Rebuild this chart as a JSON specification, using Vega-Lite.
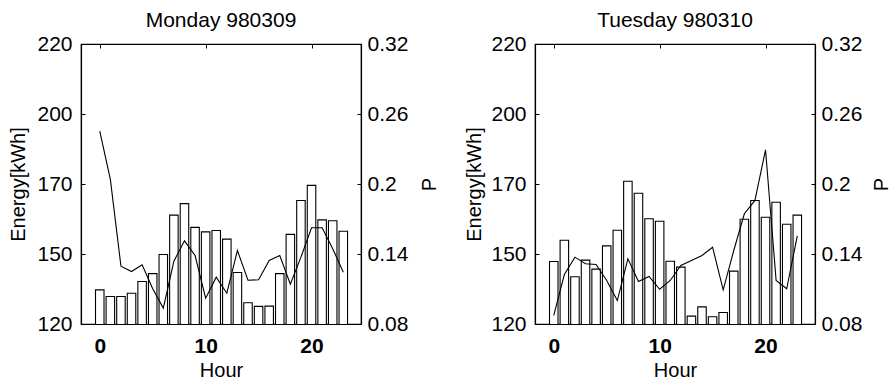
{
  "$schema": "https://vega.github.io/schema/vega-lite/v6.json",
  "background": "white",
  "padding": {"left": 7, "top": 9, "right": 0, "bottom": 0},
  "spacing": 23,
  "config": {
    "font": "Liberation Sans",
    "view": {"stroke": "black", "strokeWidth": 1.2},
    "title": {"fontSize": 21, "fontWeight": "normal", "color": "black", "offset": 2},
    "axis": {
      "grid": false,
      "domainColor": "black",
      "domainWidth": 1.2,
      "tickColor": "black",
      "tickSize": -4,
      "labelFontSize": 21,
      "labelColor": "black",
      "titleFontSize": 20,
      "titleFontWeight": "normal",
      "titleColor": "black"
    }
  },
  "datasets": {
    "mon": [
      {"hour": 0, "energy": 132.2, "p": 0.2453},
      {"hour": 1, "energy": 129.8, "p": 0.2040},
      {"hour": 2, "energy": 129.8, "p": 0.1296},
      {"hour": 3, "energy": 131.0, "p": 0.1250},
      {"hour": 4, "energy": 135.2, "p": 0.1307},
      {"hour": 5, "energy": 138.0, "p": 0.1102},
      {"hour": 6, "energy": 144.8, "p": 0.0936},
      {"hour": 7, "energy": 158.9, "p": 0.1338},
      {"hour": 8, "energy": 163.0, "p": 0.1513},
      {"hour": 9, "energy": 154.5, "p": 0.1387},
      {"hour": 10, "energy": 152.9, "p": 0.1021},
      {"hour": 11, "energy": 153.4, "p": 0.1201},
      {"hour": 12, "energy": 150.3, "p": 0.1064},
      {"hour": 13, "energy": 138.4, "p": 0.1430},
      {"hour": 14, "energy": 127.6, "p": 0.1175},
      {"hour": 15, "energy": 126.3, "p": 0.1179},
      {"hour": 16, "energy": 126.4, "p": 0.1344},
      {"hour": 17, "energy": 138.0, "p": 0.1387},
      {"hour": 18, "energy": 152.0, "p": 0.1141},
      {"hour": 19, "energy": 164.1, "p": 0.1373},
      {"hour": 20, "energy": 169.5, "p": 0.1625},
      {"hour": 21, "energy": 157.2, "p": 0.1625},
      {"hour": 22, "energy": 156.9, "p": 0.1445},
      {"hour": 23, "energy": 153.1, "p": 0.1244}
    ],
    "tue": [
      {"hour": 0, "energy": 142.3, "p": 0.0873},
      {"hour": 1, "energy": 149.9, "p": 0.1224},
      {"hour": 2, "energy": 136.9, "p": 0.1373},
      {"hour": 3, "energy": 142.8, "p": 0.1316},
      {"hour": 4, "energy": 139.6, "p": 0.1310},
      {"hour": 5, "energy": 147.9, "p": 0.1173},
      {"hour": 6, "energy": 153.5, "p": 0.1001},
      {"hour": 7, "energy": 171.0, "p": 0.1359},
      {"hour": 8, "energy": 166.7, "p": 0.1164},
      {"hour": 9, "energy": 157.6, "p": 0.1207},
      {"hour": 10, "energy": 156.7, "p": 0.1098},
      {"hour": 11, "energy": 142.4, "p": 0.1173},
      {"hour": 12, "energy": 140.3, "p": 0.1301},
      {"hour": 13, "energy": 122.8, "p": 0.1344},
      {"hour": 14, "energy": 126.1, "p": 0.1387},
      {"hour": 15, "energy": 122.6, "p": 0.1458},
      {"hour": 16, "energy": 124.1, "p": 0.1093},
      {"hour": 17, "energy": 138.9, "p": 0.1430},
      {"hour": 18, "energy": 157.4, "p": 0.1745},
      {"hour": 19, "energy": 164.1, "p": 0.1859},
      {"hour": 20, "energy": 158.1, "p": 0.2293},
      {"hour": 21, "energy": 163.5, "p": 0.1173},
      {"hour": 22, "energy": 155.6, "p": 0.1102},
      {"hour": 23, "energy": 158.9, "p": 0.1556}
    ]
  },
  "hconcat": [
    {
      "title": "Monday 980309",
      "width": 280,
      "height": 280,
      "data": {"name": "mon"},
      "layer": [
        {
          "mark": {"type": "bar", "fill": "white", "stroke": "black", "strokeWidth": 1.1, "size": 8.5, "clip": true},
          "encoding": {
            "x": {"field": "hour", "type": "quantitative", "scale": {"domain": [-1.3, 24.2], "nice": false, "zero": false},
                  "axis": {"orient": "bottom", "title": "Hour", "values": [0, 10, 20], "labelFontWeight": "bold", "labelPadding": 15, "titlePadding": 4}},
            "y": {"field": "energy", "type": "quantitative", "scale": {"domain": [120, 220], "nice": false, "zero": false},
                  "axis": {"orient": "left", "title": "Energy[kWh]", "values": [120, 145, 170, 195, 220], "labelPadding": 13, "titleX": -63, "titleY": 140, "titleBaseline": "middle", "titleAngle": 270,
                           "labelExpr": "datum.value == 145 ? '150' : datum.value == 195 ? '200' : datum.label"}}
          }
        },
        {
          "mark": {"type": "line", "color": "black", "strokeWidth": 1.1, "clip": true},
          "encoding": {
            "x": {"field": "hour", "type": "quantitative", "scale": {"domain": [-1.3, 24.2], "nice": false, "zero": false},
                  "axis": {"orient": "top", "title": null, "values": [0, 10, 20], "labels": false}},
            "y": {"field": "p", "type": "quantitative", "scale": {"domain": [0.08, 0.32], "nice": false, "zero": false},
                  "axis": {"orient": "right", "title": "P", "values": [0.08, 0.14, 0.2, 0.26, 0.32], "format": "~g", "labelPadding": 10, "titleX": 68, "titleY": 140, "titleBaseline": "middle", "titleAngle": 270}}
          }
        }
      ],
      "resolve": {"scale": {"y": "independent"}, "axis": {"x": "independent"}}
    },
    {
      "title": "Tuesday 980310",
      "width": 280,
      "height": 280,
      "data": {"name": "tue"},
      "layer": [
        {
          "mark": {"type": "bar", "fill": "white", "stroke": "black", "strokeWidth": 1.1, "size": 8.5, "clip": true},
          "encoding": {
            "x": {"field": "hour", "type": "quantitative", "scale": {"domain": [-1.3, 24.2], "nice": false, "zero": false},
                  "axis": {"orient": "bottom", "title": "Hour", "values": [0, 10, 20], "labelFontWeight": "bold", "labelPadding": 15, "titlePadding": 4}},
            "y": {"field": "energy", "type": "quantitative", "scale": {"domain": [120, 220], "nice": false, "zero": false},
                  "axis": {"orient": "left", "title": "Energy[kWh]", "values": [120, 145, 170, 195, 220], "labelPadding": 13, "titleX": -61, "titleY": 140, "titleBaseline": "middle", "titleAngle": 270,
                           "labelExpr": "datum.value == 145 ? '150' : datum.value == 195 ? '200' : datum.label"}}
          }
        },
        {
          "mark": {"type": "line", "color": "black", "strokeWidth": 1.1, "clip": true},
          "encoding": {
            "x": {"field": "hour", "type": "quantitative", "scale": {"domain": [-1.3, 24.2], "nice": false, "zero": false},
                  "axis": {"orient": "top", "title": null, "values": [0, 10, 20], "labels": false}},
            "y": {"field": "p", "type": "quantitative", "scale": {"domain": [0.08, 0.32], "nice": false, "zero": false},
                  "axis": {"orient": "right", "title": "P", "values": [0.08, 0.14, 0.2, 0.26, 0.32], "format": "~g", "labelPadding": 10, "titleX": 66, "titleY": 140, "titleBaseline": "middle", "titleAngle": 270}}
          }
        }
      ],
      "resolve": {"scale": {"y": "independent"}, "axis": {"x": "independent"}}
    }
  ]
}
